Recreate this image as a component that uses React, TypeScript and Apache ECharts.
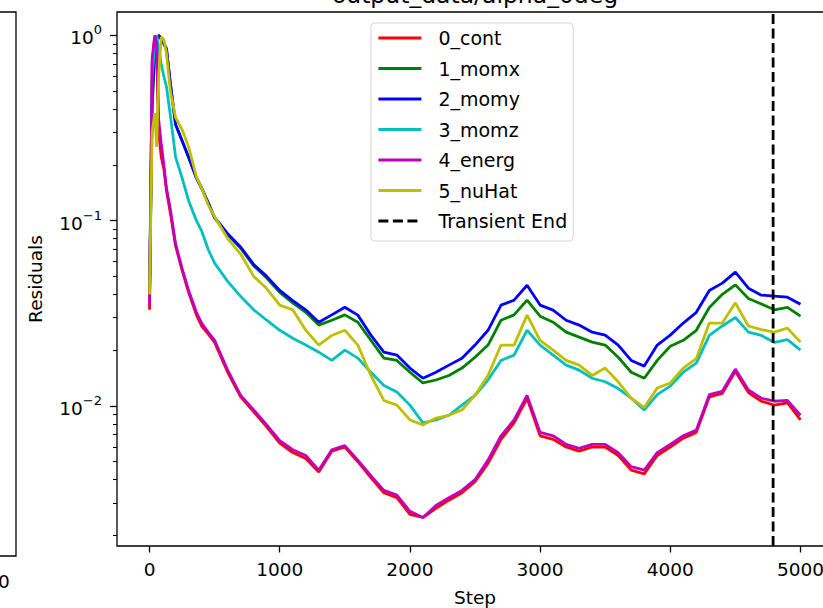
import React, { useEffect, useRef } from "react";
import * as echarts from "echarts";

const chartTitle = "output_data/alpha_0deg";
const xLabel = "Step";
const yLabel = "Residuals";
const seriesNames = ["0_cont", "1_momx", "2_momy", "3_momz", "4_energ", "5_nuHat"];
const transientName = "Transient End";
const transientEnd = 4790;
const xTicks = [0, 1000, 2000, 3000, 4000, 5000];
const yDecades = [-2, -1, 0];
const yLimits = [0.001754, 1.336];
const xLimits = [-250, 5250];

const steps = [0, 20, 40, 55, 70, 90, 110, 130, 160, 200, 250, 300, 360, 400, 450, 500,
  600, 700, 800, 900, 1000, 1100, 1200, 1300, 1400, 1500,
  1600, 1700, 1800, 1900, 2000, 2100, 2200, 2300, 2400, 2500,
  2600, 2700, 2800, 2900, 3000, 3100, 3200, 3300, 3400, 3500,
  3600, 3700, 3800, 3900, 4000, 4100, 4200, 4300, 4400, 4500,
  4600, 4700, 4800, 4900, 5000];

const cont = [0.033, 0.7, 0.98, 0.85, 0.3, 0.22, 0.19, 0.145, 0.11, 0.073, 0.054, 0.041, 0.031, 0.027, 0.0245, 0.022,
  0.0152, 0.0112, 0.0093, 0.0077, 0.0063, 0.0056, 0.0052, 0.0044, 0.0057, 0.006,
  0.005, 0.0041, 0.0034, 0.0032, 0.0026, 0.0025, 0.0028, 0.0031, 0.0034, 0.0039,
  0.0049, 0.0066, 0.0081, 0.011, 0.0069, 0.0066, 0.006, 0.0057, 0.006, 0.006,
  0.0054, 0.0045, 0.0043, 0.0054, 0.006, 0.0067, 0.0072, 0.0112, 0.0117, 0.0154,
  0.0118, 0.0106, 0.0101, 0.0104, 0.0084];

const momx = [0.04, 0.4, 0.8, 0.95, 1.0, 0.97, 0.9, 0.84, 0.55, 0.33, 0.27, 0.22, 0.17, 0.15, 0.125, 0.103,
  0.084, 0.071, 0.057, 0.049, 0.041, 0.036, 0.032, 0.0273, 0.029, 0.031,
  0.0283, 0.0226, 0.0181, 0.0176, 0.0152, 0.0133, 0.0138, 0.0146, 0.016, 0.0183,
  0.0213, 0.029, 0.031, 0.0372, 0.0305, 0.0283, 0.025, 0.0235, 0.0221, 0.0213,
  0.0183, 0.0152, 0.0141, 0.0176, 0.021, 0.0226, 0.0256, 0.034, 0.04, 0.045,
  0.038, 0.0355, 0.033, 0.034, 0.0305];

const momy = [0.04, 0.45, 0.85, 0.95, 1.0, 0.95, 0.9, 0.85, 0.55, 0.33, 0.27, 0.22, 0.17, 0.15, 0.125, 0.104,
  0.085, 0.072, 0.058, 0.05, 0.042, 0.037, 0.033, 0.0283, 0.031, 0.0341,
  0.0309, 0.0241, 0.0195, 0.0188, 0.016, 0.0141, 0.0152, 0.0166, 0.0181, 0.0213,
  0.0256, 0.035, 0.0372, 0.0448, 0.035, 0.0329, 0.029, 0.0273, 0.025, 0.0241,
  0.0213, 0.0176, 0.0164, 0.0213, 0.0241, 0.028, 0.032, 0.042, 0.046, 0.0527,
  0.0432, 0.0396, 0.0391, 0.0386, 0.0354];

const momz = [0.045, 0.6, 0.9, 1.0, 0.85, 0.7, 0.6, 0.528, 0.37, 0.22, 0.17, 0.128, 0.1, 0.088, 0.07, 0.059,
  0.047, 0.039, 0.033, 0.029, 0.0256, 0.0232, 0.0213, 0.0195, 0.0176, 0.02,
  0.0181, 0.0152, 0.0129, 0.0119, 0.0101, 0.0081, 0.0084, 0.0089, 0.0101, 0.0114,
  0.0138, 0.0176, 0.0188, 0.0256, 0.0213, 0.0188, 0.0166, 0.0156, 0.0141, 0.0135,
  0.0124, 0.011, 0.0095, 0.0115, 0.0128, 0.0152, 0.017, 0.024, 0.027, 0.03,
  0.025, 0.024, 0.022, 0.0228, 0.02];

const energ = [0.035, 0.75, 1.0, 0.9, 0.35, 0.26, 0.2, 0.15, 0.115, 0.075, 0.055, 0.042, 0.032, 0.028, 0.025, 0.0226,
  0.0156, 0.0114, 0.0095, 0.0079, 0.0065, 0.0058, 0.0054, 0.0045, 0.0058, 0.0061,
  0.0051, 0.0042, 0.0035, 0.0033, 0.0027, 0.0025, 0.0029, 0.0032, 0.0035, 0.004,
  0.0051, 0.0069, 0.0084, 0.0114, 0.0072, 0.0069, 0.0062, 0.0059, 0.0062, 0.0062,
  0.0056, 0.0047, 0.0045, 0.0056, 0.0062, 0.0069, 0.0074, 0.0115, 0.012, 0.0158,
  0.0122, 0.011, 0.0106, 0.0107, 0.0089];

const nuHat = [0.04, 0.3, 0.38, 0.25, 0.6, 0.98, 0.95, 0.8, 0.5, 0.36, 0.31, 0.25, 0.172, 0.15, 0.122, 0.105,
  0.08, 0.066, 0.05, 0.043, 0.035, 0.033, 0.0256, 0.0213, 0.024, 0.0256,
  0.0213, 0.0146, 0.0107, 0.0101, 0.0084, 0.0079, 0.0086, 0.0089, 0.0095, 0.0114,
  0.0146, 0.0213, 0.0213, 0.0309, 0.0226, 0.02, 0.0176, 0.0166, 0.0146, 0.016,
  0.0135, 0.011, 0.0098, 0.0125, 0.0133, 0.016, 0.018, 0.028, 0.028, 0.036,
  0.027, 0.0258, 0.025, 0.0263, 0.0221];

const seriesValues = [cont, momx, momy, momz, energ, nuHat];
const seriesColors = ["#ff0000", "#008000", "#0000ff", "#00bfbf", "#bf00bf", "#bfbf00"];

const FONT = "DejaVu Sans";

export default function App() {
  const ref = useRef<HTMLDivElement>(null);
  useEffect(() => {
    if (!ref.current) return;
    const chart = echarts.init(ref.current, null, { renderer: "svg" });
    const lg = Math.log10;
    const yMin = lg(yLimits[0]);
    const yMax = lg(yLimits[1]);
    const minor: number[] = [];
    for (let d = -3; d <= 0; d++) {
      for (let k = 2; k <= 9; k++) {
        const v = lg(k) + d;
        if (v >= yMin && v <= yMax) minor.push(v);
      }
    }
    const sup = (v: number) => {
      const n = Math.round(v);
      return n < 0 ? "\u2212" + String(-n) : String(n);
    };

    const lineSeries: any[] = seriesNames.map((name, i) => ({
      type: "line",
      name,
      xAxisIndex: 0,
      yAxisIndex: 0,
      data: steps.map((s, j) => [s, lg(seriesValues[i][j])]),
      symbol: "none",
      showSymbol: false,
      smooth: false,
      lineStyle: { color: seriesColors[i], width: 2.8 },
      itemStyle: { color: seriesColors[i] },
      z: 2 + i,
    }));
    lineSeries.push({
      type: "line",
      name: transientName,
      xAxisIndex: 0,
      yAxisIndex: 0,
      data: [[transientEnd, yMin], [transientEnd, yMax]],
      symbol: "none",
      showSymbol: false,
      lineStyle: { color: "#000", width: 2.8, type: [10, 4.5] },
      itemStyle: { color: "#000" },
      z: 10,
    });

    const tickLabel = { fontSize: 18.5, fontFamily: FONT, color: "#000" };
    const noLine = { show: false, onZero: false };

    chart.setOption({
      animation: false,
      backgroundColor: "#fff",
      title: {
        text: chartTitle,
        left: 470,
        top: -22,
        textAlign: "center",
        textStyle: { fontSize: 23.5, fontWeight: "normal", fontFamily: FONT, color: "#000" },
      },
      legend: {
        orient: "vertical",
        left: 371,
        top: 23,
        padding: [5, 6, 10, 6],
        itemWidth: 43,
        itemHeight: 2,
        itemGap: 10.5,
        selectedMode: false,
        borderColor: "#d5d5d5",
        borderWidth: 1,
        borderRadius: 4,
        backgroundColor: "rgba(255,255,255,0.8)",
        itemStyle: { opacity: 0 },
        lineStyle: { width: 2.8 },
        textStyle: { fontSize: 19, fontFamily: FONT, color: "#000", lineHeight: 20, padding: [0, 0, 0, 12] },
        data: [...seriesNames, transientName],
        z: 20,
      },
      grid: [
        { left: 117, top: 12, width: 716, height: 534, show: true, borderColor: "#000", borderWidth: 1.3, backgroundColor: "transparent", containLabel: false, outerBoundsMode: "none" },
        { left: -637, top: 12, width: 653, height: 544, show: true, borderColor: "#000", borderWidth: 1.3, backgroundColor: "transparent", containLabel: false, outerBoundsMode: "none" },
      ],
      xAxis: [
        {
          type: "value",
          gridIndex: 0,
          position: "bottom",
          min: xLimits[0],
          max: xLimits[1],
          name: xLabel,
          nameLocation: "middle",
          nameGap: 42,
          nameTextStyle: { fontSize: 18.5, fontFamily: FONT, color: "#000" },
          axisLine: noLine,
          splitLine: { show: false },
          axisTick: { show: true, customValues: xTicks, length: 6.5, lineStyle: { color: "#000", width: 1.3 } },
          axisLabel: { show: true, customValues: xTicks, margin: 14, formatter: (v: number) => String(v), ...tickLabel },
        },
        {
          type: "value",
          gridIndex: 1,
          position: "bottom",
          min: xLimits[0],
          max: xLimits[1],
          axisLine: noLine,
          splitLine: { show: false },
          axisTick: { show: true, customValues: xTicks, length: 6.5, lineStyle: { color: "#000", width: 1.3 } },
          axisLabel: { show: true, customValues: xTicks, margin: 16, formatter: (v: number) => String(v), ...tickLabel },
        },
      ],
      yAxis: [
        {
          type: "value",
          gridIndex: 0,
          position: "left",
          min: yMin,
          max: yMax,
          name: yLabel,
          nameLocation: "middle",
          nameGap: 72,
          nameTextStyle: { fontSize: 18.5, fontFamily: FONT, color: "#000" },
          axisLine: noLine,
          splitLine: { show: false },
          axisTick: { show: true, customValues: yDecades, length: 7, lineStyle: { color: "#000", width: 1.3 } },
          axisLabel: {
            show: true,
            customValues: yDecades,
            margin: 15,
            formatter: (v: number) => `{b|10}{s|${sup(v)}}`,
            rich: {
              b: { fontSize: 18.5, fontFamily: FONT, color: "#000", verticalAlign: "bottom", lineHeight: 24 },
              s: { fontSize: 13, fontFamily: FONT, color: "#000", verticalAlign: "top", lineHeight: 14 },
            },
          },
        },
        {
          type: "value",
          gridIndex: 0,
          position: "left",
          offset: 0,
          min: yMin,
          max: yMax,
          axisLine: noLine,
          splitLine: { show: false },
          axisTick: { show: true, customValues: minor, length: 4, lineStyle: { color: "#000", width: 1.1 } },
          axisLabel: { show: false },
        },
        {
          type: "value",
          gridIndex: 1,
          position: "left",
          min: yMin,
          max: yMax,
          axisLine: noLine,
          splitLine: { show: false },
          axisTick: { show: false },
          axisLabel: { show: false },
        },
      ],
      series: lineSeries,
    });
    return () => chart.dispose();
  }, []);
  return <div ref={ref} style={{ position: "absolute", left: 0, top: 0, width: 823, height: 608 }} />;
}
